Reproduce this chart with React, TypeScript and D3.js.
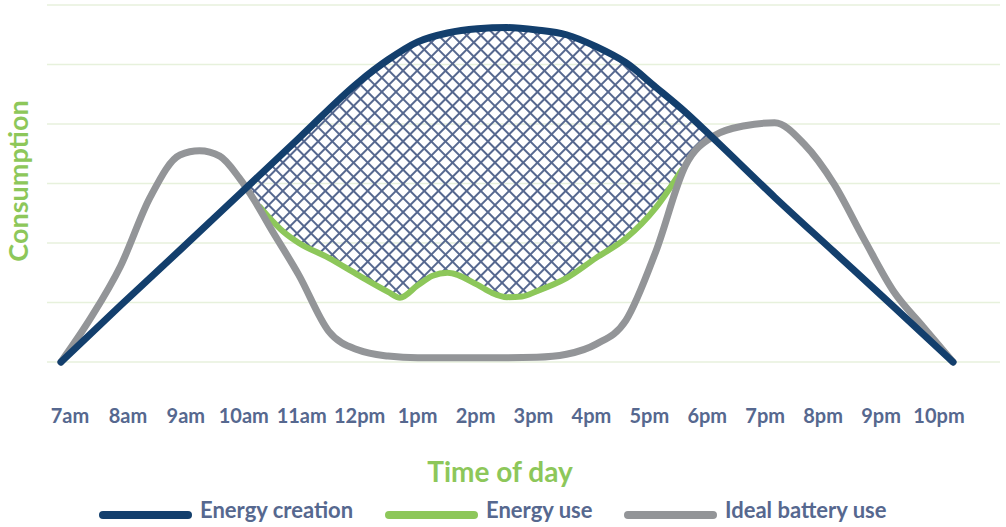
import * as d3 from "d3";

const timeLabels = ["7am", "8am", "9am", "10am", "11am", "12pm", "1pm", "2pm", "3pm", "4pm", "5pm", "6pm", "7pm", "8pm", "9pm", "10pm"];

// hours of the day (24h) and consumption levels
const creationHours = [7, 8, 9, 10, 11, 12, 12.5, 13, 13.5, 14, 14.5, 15, 15.5, 16, 16.5, 17, 17.5, 18, 19, 20, 21, 22];
const creationValues = [0, 0.95, 1.88, 2.82, 3.76, 4.7, 5.08, 5.38, 5.53, 5.6, 5.62, 5.58, 5.5, 5.3, 5.03, 4.62, 4.2, 3.73, 2.77, 1.85, 0.93, 0];

const useHours = [10.35, 10.5, 10.75, 11, 11.5, 12, 12.5, 12.7, 13, 13.25, 13.5, 14, 14.25, 14.5, 14.75, 15, 15.5, 16, 16.5, 17, 17.44];
const useValues = [2.6, 2.43, 2.18, 2.0, 1.75, 1.46, 1.18, 1.08, 1.29, 1.45, 1.5, 1.3, 1.16, 1.09, 1.1, 1.19, 1.41, 1.75, 2.08, 2.59, 3.23];

const batteryHours = [7, 7.5, 8, 8.5, 9, 9.33, 9.67, 10, 10.25, 10.5, 11, 11.5, 12, 12.5, 13, 14, 15, 15.5, 16, 16.5, 17, 17.5, 18, 18.5, 19, 19.5, 20, 20.5, 21, 21.5, 22];
const batteryValues = [0, 0.74, 1.61, 2.77, 3.48, 3.55, 3.46, 3.09, 2.72, 2.29, 1.46, 0.52, 0.2, 0.1, 0.07, 0.07, 0.08, 0.13, 0.3, 0.7, 1.85, 3.3, 3.81, 3.97, 4.02, 3.66, 2.99, 2.07, 1.19, 0.59, 0];

const gridLevels = [0, 1, 2, 3, 4, 5, 6];

const legendNames = ["Energy creation", "Energy use", "Ideal battery use"];

const BLUE = "#133f6d";
const GREEN = "#8dc75a";
const GRAY = "#939598";
const SLATE = "#56688f";
const FONT = "Lato, 'Open Sans', sans-serif";

type Pt = [number, number];
const zip = (xs: number[], ys: number[]): Pt[] => xs.map((h, i) => [h, ys[i]]);

export default function App() {
  const width = 1006;
  const height = 527;

  const x = d3.scaleLinear().domain([7, 22]).range([61, 953]);
  const y = d3.scaleLinear().domain([0, 6]).range([362, 5]);
  const labelX = d3.scalePoint<string>().domain(timeLabels).range([70, 939]);

  const line = d3.line<Pt>().x(d => x(d[0])).y(d => y(d[1])).curve(d3.curveMonotoneX);
  const areaUnder = d3.area<Pt>().x(d => x(d[0])).y0(y(0) + 10).y1(d => y(d[1])).curve(d3.curveMonotoneX);

  const creation = zip(creationHours, creationValues);
  const use = zip(useHours, useValues);
  const battery = zip(batteryHours, batteryValues);

  const legendColors = [BLUE, GREEN, GRAY];
  const legendStart = d3.scaleOrdinal<string, number>().domain(legendNames).range([103, 389, 628]);

  return (
    <svg width={width} height={height} style={{ position: "absolute", left: 0, top: 0, background: "#fff" }}>
      <defs>
        <pattern id="hatch" width={10} height={10} patternUnits="userSpaceOnUse" patternTransform="rotate(45)">
          <path d="M0 5H10M5 0V10" stroke={SLATE} strokeWidth={2} />
        </pattern>
        <mask id="hatchMask" maskUnits="userSpaceOnUse" x={0} y={0} width={width} height={height}>
          <path d={areaUnder(creation) || ""} fill="white" />
          <rect x={0} y={0} width={x(10)} height={height} fill="black" />
          <rect x={x(18.5)} y={0} width={width} height={height} fill="black" />
          <path d={areaUnder(battery) || ""} fill="black" />
          <path d={areaUnder(use) || ""} fill="black" />
        </mask>
      </defs>

      {gridLevels.map(g => (
        <line key={g} x1={47} x2={1000} y1={y(g)} y2={y(g)} stroke="#e7f1dc" strokeWidth={1.5} />
      ))}

      <rect x={0} y={0} width={width} height={height} fill="url(#hatch)" mask="url(#hatchMask)" />

      <path d={line(use) || ""} fill="none" stroke={GREEN} strokeWidth={6} strokeLinecap="round" />
      <path d={line(battery) || ""} fill="none" stroke={GRAY} strokeWidth={7} strokeLinecap="round" />
      <path d={line(creation) || ""} fill="none" stroke={BLUE} strokeWidth={7} strokeLinecap="round" />

      {timeLabels.map(t => (
        <text key={t} x={labelX(t)} y={423} textAnchor="middle" fill={SLATE} fontFamily={FONT} fontWeight={700} fontSize={20}>
          {t}
        </text>
      ))}

      <text x={500} y={482} textAnchor="middle" fill={GREEN} fontFamily={FONT} fontWeight={700} fontSize={28}>
        Time of day
      </text>
      <text transform={`translate(28,181) rotate(-90)`} textAnchor="middle" fill={GREEN} fontFamily={FONT} fontWeight={700} fontSize={27}>
        Consumption
      </text>

      {legendNames.map((n, i) => {
        const x0 = legendStart(n);
        return (
          <g key={n}>
            <line x1={x0} x2={x0 + 85} y1={515} y2={515} stroke={legendColors[i]} strokeWidth={8} strokeLinecap="round" />
            <text x={x0 + 97} y={518} fill={SLATE} fontFamily={FONT} fontWeight={700} fontSize={22}>
              {n}
            </text>
          </g>
        );
      })}
    </svg>
  );
}
